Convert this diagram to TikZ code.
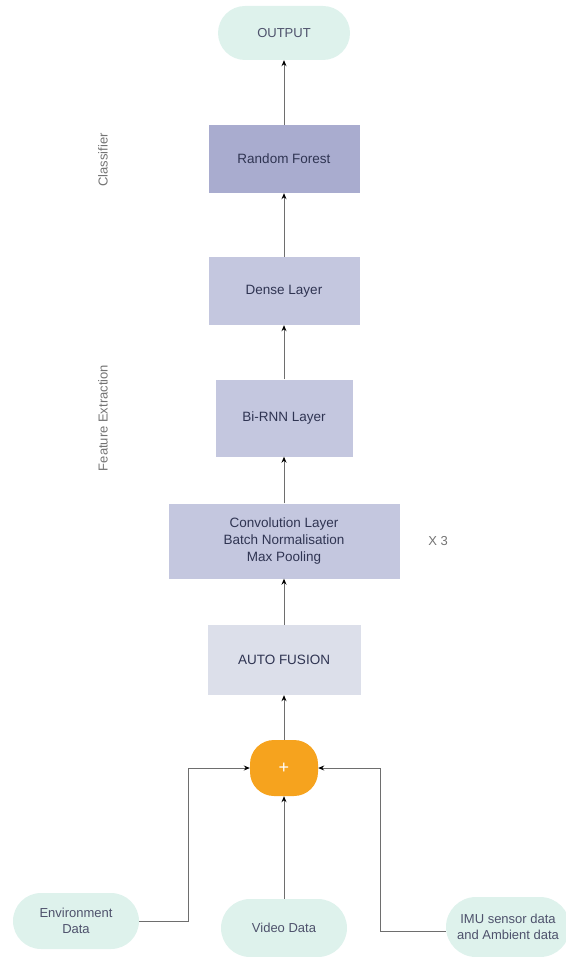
\documentclass[tikz,border=0pt]{standalone}
\usepackage{fontspec}
\setmainfont{Liberation Sans}
\usetikzlibrary{arrows.meta,positioning}
\definecolor{mint}{HTML}{DEF2EC}
\definecolor{lavdark}{HTML}{A9ACCF}
\definecolor{lavmid}{HTML}{C4C7DF}
\definecolor{lavlight}{HTML}{DCDFEA}
\definecolor{fuseorange}{HTML}{F6A31E}
\definecolor{navy}{HTML}{2F3452}
\definecolor{wire}{HTML}{6E6E6E}
\begin{document}
\begin{tikzpicture}[x=1pt, y=-1pt,
    layer/.style={rectangle, fill=lavmid, minimum width=151pt, minimum height=68pt, inner sep=0pt, font=\fontsize{13.5}{16.7}\selectfont, text=navy, align=center},
    term/.style={rectangle, rounded corners=27pt, fill=mint, minimum height=54pt, inner sep=0pt, font=\fontsize{13}{16}\selectfont, text=navy!85, align=center},
    side/.style={font=\fontsize{13}{15}\selectfont, text=black!55},
    line/.style={-{Stealth[length=6pt, width=5pt, color=black, fill=black]}, draw=wire, line width=0.9pt},
  ]
  \useasboundingbox (0,0) rectangle (565,957);
  % output and classifier
  \node[term, minimum width=132pt] (out) at (284,33) {OUTPUT};
  \node[layer, fill=lavdark] (rf) at (284,159) {Random Forest};
  \node[side, rotate=90] (cls) at (103,160) {Classifier};
  % feature extraction
  \node[layer] (dense) at (284,291) {Dense Layer};
  \node[layer, minimum width=137pt, minimum height=77pt] (rnn) at (284,418) {Bi-RNN Layer};
  \node[layer, minimum width=231pt, minimum height=75pt] (conv) at (284,541) {Convolution Layer\\Batch Normalisation\\Max Pooling};
  \node[side] (rep) at (438,541) {X 3};
  \node[side, rotate=90] (feat) at (103,418) {Feature Extraction};
  \node[layer, fill=lavlight, minimum width=153pt, minimum height=70pt] (fusion) at (284,660) {AUTO FUSION};
  \node[rectangle, rounded corners=24pt, fill=fuseorange, minimum width=68pt, minimum height=56pt, text=white, font=\fontsize{18}{18}\selectfont] (plus) at (284,768) {+};
  % inputs
  \node[term, rounded corners=28pt, minimum width=126pt, minimum height=56pt] (env) at (76,921) {Environment\\Data};
  \node[term, rounded corners=29pt, minimum width=126pt, minimum height=58pt] (vid) at (284,928) {Video Data};
  \node[term, rounded corners=30pt, minimum width=124pt, minimum height=60pt] (imu) at (508,927) {IMU sensor data\\and Ambient data};
  % connectors
  \draw[line] (rf) -- (out);
  \draw[line] (dense) -- (rf);
  \draw[line] (rnn) -- (dense);
  \draw[line] (conv) -- (rnn);
  \draw[line] (fusion) -- (conv);
  \draw[line] (plus) -- (fusion);
  \draw[line] (vid) -- (plus);
  \draw[line] (env.east) -| (188,768) -- (plus.west);
  \draw[line] (imu.west |- 0,931) -| (380,768) -- (plus.east);
\end{tikzpicture}
\end{document}
